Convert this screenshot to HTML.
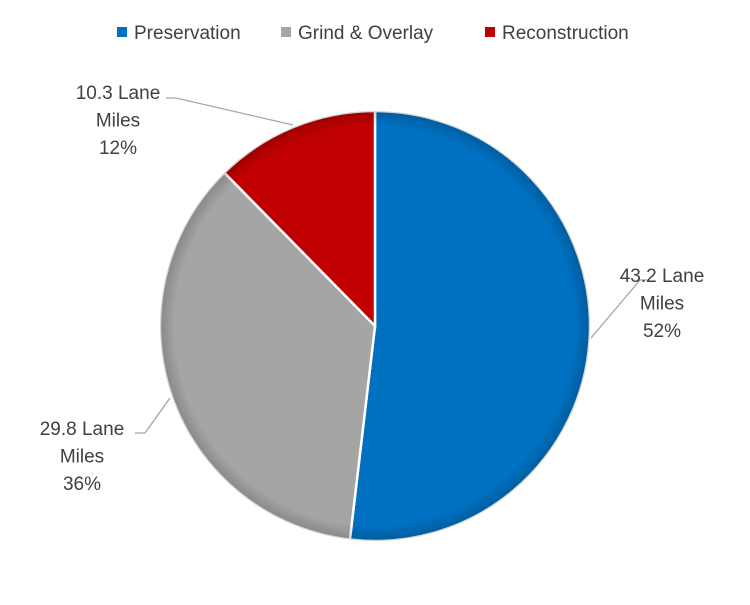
<!DOCTYPE html>
<html><head><meta charset="utf-8"><style>
body{margin:0;background:#fff;width:750px;height:600px;overflow:hidden}
svg{font-family:"Liberation Sans",sans-serif}
</style></head><body>
<svg width="750" height="600">
<defs>
<radialGradient id="shade" cx="0.5" cy="0.5" r="0.5">
<stop offset="0.93" stop-color="#000" stop-opacity="0"/>
<stop offset="1" stop-color="#000" stop-opacity="0.18"/>
</radialGradient>
</defs>
<g id="legend" font-size="19" fill="#404040">
<g><rect x="117" y="27" width="10" height="10" fill="#0070c0"/><text x="134" y="39">Preservation</text></g>
<g><rect x="281" y="27" width="10" height="10" fill="#a5a5a5"/><text x="298" y="39">Grind &amp; Overlay</text></g>
<g><rect x="485" y="27" width="10" height="10" fill="#c00000"/><text x="502" y="39">Reconstruction</text></g>
</g>
<g id="slices"></g>
<circle cx="375" cy="326" r="215" fill="url(#shade)" pointer-events="none"/>
<g id="lines" stroke="#a6a6a6" stroke-width="1.3" fill="none">
<polyline points="591,338 640,280 648,280"/>
<polyline points="166,98 176,98 293,125"/>
<polyline points="135,433 145,433 170,398"/>
</g>
<g id="labels" font-size="19" fill="#404040" text-anchor="middle"></g>
</svg>
<script>
const categories=["Preservation","Grind & Overlay","Reconstruction"];
const values=[43.2,29.8,10.3];
const percentLabels=["52%","36%","12%"];
const colors=["#0070c0","#a5a5a5","#c00000"];
const cx=375,cy=326,r=215;
const total=values.reduce((a,b)=>a+b,0);
const ns="http://www.w3.org/2000/svg";
const g=document.getElementById('slices');
let a0=0;
values.forEach((v,i)=>{
  const a1=a0+v/total*2*Math.PI;
  const x0=cx+r*Math.sin(a0),y0=cy-r*Math.cos(a0),x1=cx+r*Math.sin(a1),y1=cy-r*Math.cos(a1);
  const p=document.createElementNS(ns,'path');
  p.setAttribute('d',`M${cx},${cy}L${x0},${y0}A${r},${r} 0 ${a1-a0>Math.PI?1:0} 1 ${x1},${y1}Z`);
  p.setAttribute('fill',colors[i]);p.setAttribute('stroke','#fff');p.setAttribute('stroke-width','2.5');
  
  
  g.appendChild(p);a0=a1;
});
const labelPos=[[662,275],[82,428],[118,92]];
const L=document.getElementById('labels');
values.forEach((v,i)=>{
  const t=document.createElementNS(ns,'text');
  
  
  [v.toFixed(1)+" Lane","Miles",percentLabels[i]].forEach((s,k)=>{
    const ts=document.createElementNS(ns,'tspan');
    ts.setAttribute('x',labelPos[i][0]);ts.setAttribute('y',labelPos[i][1]+7+k*27.5);
    ts.textContent=s;t.appendChild(ts);
  });
  L.appendChild(t);
});
</script>
</body></html>
